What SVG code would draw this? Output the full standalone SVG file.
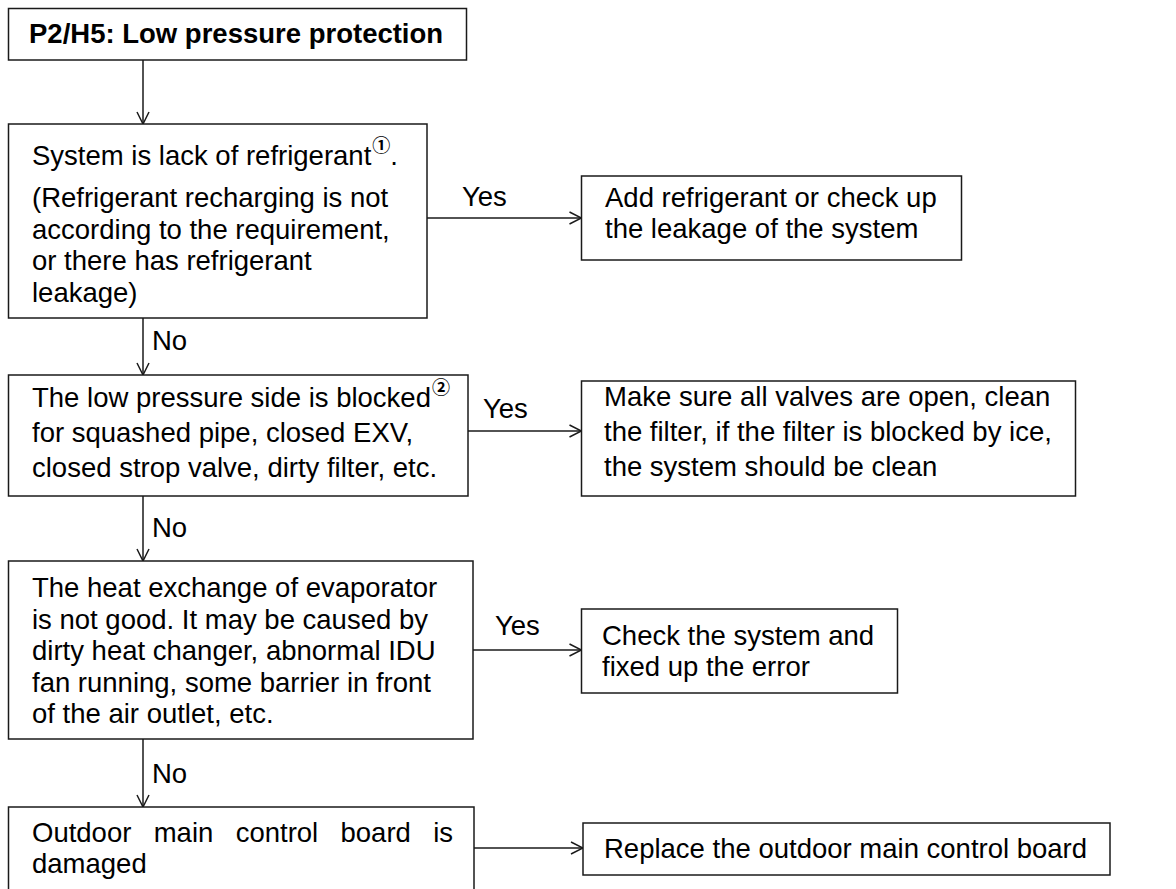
<svg xmlns="http://www.w3.org/2000/svg" width="1176" height="889" viewBox="0 0 1176 889">
  <style>
    .box { fill: #ffffff; stroke: #1a1a1a; stroke-width: 1.5; }
    .t { font-family: "Liberation Sans", Arial, sans-serif; font-size: 27.5px; fill: #000000; }
    .tb { font-family: "Liberation Sans", Arial, sans-serif; font-size: 27.5px; font-weight: bold; fill: #000000; }
    .sup { font-family: "Noto Sans CJK SC", "DejaVu Sans", sans-serif; font-size: 18px; font-weight: bold; }
    .lbl { font-family: "Liberation Sans", Arial, sans-serif; font-size: 27.5px; fill: #000000; }
    .edge { fill: none; stroke: #1a1a1a; stroke-width: 1.5; marker-end: url(#arr); }
  </style>
  <defs>
    <marker id="arr" viewBox="0 0 14 14" refX="13" refY="7" markerWidth="14" markerHeight="14" orient="auto" markerUnits="userSpaceOnUse">
      <path d="M1,1 L13,7 L1,13" fill="none" stroke="#1a1a1a" stroke-width="1.5"/>
    </marker>
  </defs>
  <rect width="1176" height="889" fill="#ffffff"/>

  <!-- connectors -->
  <g id="connectors">
    <line class="edge" x1="143" y1="60" x2="143" y2="124"/>
    <line class="edge" x1="143" y1="318" x2="143" y2="375"/>
    <line class="edge" x1="143" y1="496" x2="143" y2="561"/>
    <line class="edge" x1="143" y1="739" x2="143" y2="807"/>
    <line class="edge" x1="427" y1="218" x2="581.5" y2="218"/>
    <line class="edge" x1="468" y1="431" x2="581.5" y2="431"/>
    <line class="edge" x1="473" y1="650" x2="581.5" y2="650"/>
    <line class="edge" x1="474" y1="848" x2="583" y2="848"/>
    <text class="lbl" x="152" y="350">No</text>
    <text class="lbl" x="152" y="537">No</text>
    <text class="lbl" x="152" y="783">No</text>
    <text class="lbl" x="462" y="206">Yes</text>
    <text class="lbl" x="483" y="418">Yes</text>
    <text class="lbl" x="495" y="635">Yes</text>
  </g>

  <g id="start">
    <rect class="box" x="8.5" y="8.5" width="458" height="51.5"/>
    <text class="tb" x="29" y="43">P2/H5: Low pressure protection</text>
  </g>

  <g id="lack-refrigerant">
    <rect class="box" x="8.5" y="124" width="418.5" height="194"/>
    <text class="t" x="32" y="165">System is lack of refrigerant<tspan class="sup" dx="1" dy="-13">①</tspan><tspan dy="13">.</tspan></text>
    <text class="t" x="32" y="207">(Refrigerant recharging is not</text>
    <text class="t" x="32" y="238.5">according to the requirement,</text>
    <text class="t" x="32" y="270">or there has refrigerant</text>
    <text class="t" x="32" y="301.5">leakage)</text>
  </g>

  <g id="add-refrigerant">
    <rect class="box" x="581.5" y="176" width="380" height="84"/>
    <text class="t" x="605" y="207">Add refrigerant or check up</text>
    <text class="t" x="605" y="238">the leakage of the system</text>
  </g>

  <g id="low-side-blocked">
    <rect class="box" x="8.5" y="375" width="459.5" height="121"/>
    <text class="t" x="32" y="407">The low pressure side is blocked<tspan class="sup" dx="1" dy="-13">②</tspan></text>
    <text class="t" x="32" y="442">for squashed pipe, closed EXV,</text>
    <text class="t" x="32" y="477">closed strop valve, dirty filter, etc.</text>
  </g>

  <g id="open-valves">
    <rect class="box" x="581.5" y="381" width="494" height="115"/>
    <text class="t" x="604" y="406">Make sure all valves are open, clean</text>
    <text class="t" x="604" y="441">the filter, if the filter is blocked by ice,</text>
    <text class="t" x="604" y="476">the system should be clean</text>
  </g>

  <g id="heat-exchange">
    <rect class="box" x="8.5" y="561" width="464.5" height="178"/>
    <text class="t" x="32" y="597">The heat exchange of evaporator</text>
    <text class="t" x="32" y="628.6">is not good. It may be caused by</text>
    <text class="t" x="32" y="660.2">dirty heat changer, abnormal IDU</text>
    <text class="t" x="32" y="691.8">fan running, some barrier in front</text>
    <text class="t" x="32" y="723.4">of the air outlet, etc.</text>
  </g>

  <g id="check-system">
    <rect class="box" x="581.5" y="609" width="316" height="84"/>
    <text class="t" x="602" y="645">Check the system and</text>
    <text class="t" x="602" y="676">fixed up the error</text>
  </g>

  <g id="board-damaged">
    <rect class="box" x="8.5" y="807" width="465.5" height="90"/>
    <text class="t" x="32" y="842" word-spacing="14.7">Outdoor main control board is</text>
    <text class="t" x="32" y="873">damaged</text>
  </g>

  <g id="replace-board">
    <rect class="box" x="583" y="823" width="527" height="52"/>
    <text class="t" x="604" y="858">Replace the outdoor main control board</text>
  </g>
</svg>
